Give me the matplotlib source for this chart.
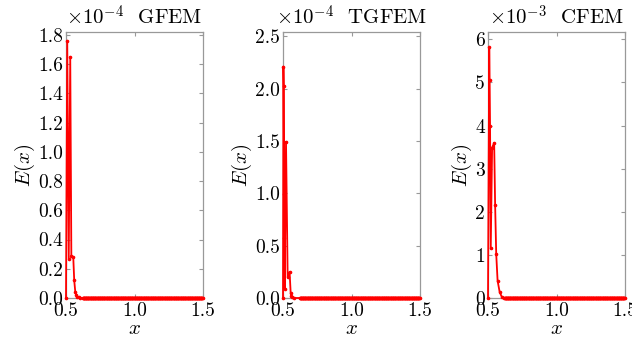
import numpy as np
import matplotlib
matplotlib.use("Agg")
import matplotlib.pyplot as plt

plt.rcParams["mathtext.fontset"] = "cm"
plt.rcParams["font.family"] = "serif"
plt.rcParams["font.serif"] = ["cmr10", "DejaVu Serif"]
plt.rcParams["axes.formatter.use_mathtext"] = True

# error data near the left boundary (scaled values)
x_gfem = [0.500, 0.509, 0.520, 0.531, 0.539, 0.553, 0.560, 0.568, 0.575, 0.582, 0.592, 0.605]
e_gfem = [0.00, 1.76, 0.27, 1.65, 0.29, 0.28, 0.12, 0.04, 0.02, 0.01, 0.004, 0.0]

x_tgfem = [0.500, 0.503, 0.505, 0.508, 0.510, 0.512, 0.522, 0.534, 0.548, 0.556, 0.560, 0.568, 0.580]
e_tgfem = [0.00, 2.21, 2.02, 0.99, 0.57, 0.09, 1.49, 0.20, 0.25, 0.05, 0.02, 0.01, 0.0]

x_cfem = [0.500, 0.509, 0.512, 0.515, 0.520, 0.530, 0.545, 0.552, 0.560, 0.570, 0.585, 0.600, 0.620]
e_cfem = [0.00, 5.82, 5.05, 4.00, 1.15, 3.49, 3.60, 2.16, 1.02, 0.40, 0.14, 0.03, 0.0]

# far field: error is zero up to x = 1.5 (fine sampling grid)
x_tail = np.arange(0.622, 1.5001, 0.003)
e_tail = np.zeros(len(x_tail))

titles = [r"$\times10^{-4}$  GFEM", r"$\times10^{-4}$  TGFEM", r"$\times10^{-3}$  CFEM"]
ylims = [1.82, 2.54, 6.17]
yticks = [np.arange(0, 1.81, 0.2), np.arange(0, 2.51, 0.5), np.arange(0, 6.1, 1)]
yfmt = ["%.1f", "%.1f", "%d"]
series = [(x_gfem, e_gfem), (x_tgfem, e_tgfem), (x_cfem, e_cfem)]
lefts = [66, 283, 488]

fig = plt.figure(figsize=(6.32, 3.38), dpi=100)
W, H = 632, 338

for i in range(3):
    ax = fig.add_axes([lefts[i] / W, 1 - 298 / H, 137 / W, 266 / H])
    xs = list(series[i][0]) + list(x_tail)
    ys = list(series[i][1]) + list(e_tail)
    ax.plot(xs, ys, color="#ff0000", lw=1.3, marker=".", ms=3.2, clip_on=False, zorder=3)
    ax.set_xlim(0.5, 1.5)
    ax.set_ylim(0, ylims[i])
    ax.set_xticks([0.5, 1.0, 1.5])
    ax.set_xticklabels(["0.5", "1.0", "1.5"])
    ax.set_yticks(yticks[i])
    ax.set_yticklabels([yfmt[i] % v for v in yticks[i]])
    ax.tick_params(direction="in", top=True, right=True, length=3, width=0.8,
                   color="#999999", labelsize=14, pad=2)
    ax.tick_params(axis="x", pad=3)
    for s in ax.spines.values():
        s.set_color("#999999")
        s.set_linewidth(0.9)
    ax.set_xlabel(r"$x$", fontsize=15, labelpad=0)
    ax.set_ylabel(r"$E(x)$", fontsize=15, labelpad=1)
    ax.set_title(titles[i], fontsize=15, pad=5)

fig.savefig("out.png", dpi=100)
